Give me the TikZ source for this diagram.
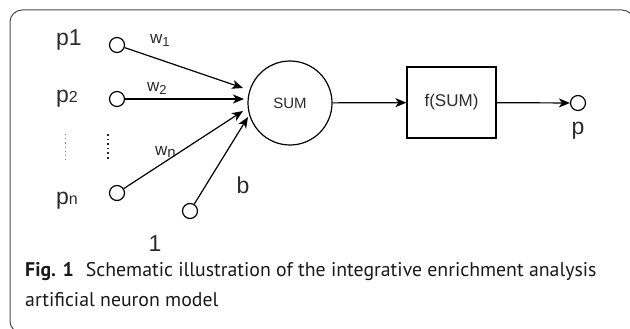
\documentclass[tikz,border=0pt]{standalone}
\usepackage{fontspec}
\setmainfont{Liberation Sans}
\newfontfamily\capfont{PT Sans}
\usetikzlibrary{arrows.meta}
\definecolor{txt}{HTML}{2b2b2b}
\newcommand{\smallsz}{\fontsize{16}{18}\selectfont}
\newcommand{\subsz}[1]{\raisebox{-3pt}{\fontsize{13}{15}\selectfont #1}}
\tikzset{
  lbl/.style={text=txt, inner sep=0pt, font=\fontsize{23}{25}\selectfont},
  wlbl/.style={text=txt, inner sep=0pt, font=\fontsize{17}{19}\selectfont},
  port/.style={circle, draw=black, line width=1.2pt, minimum size=15pt, inner sep=0pt},
  conn/.style={line width=1.2pt, -{Stealth[length=11pt,width=9pt,inset=3pt]}},
}
\begin{document}
\begin{tikzpicture}[x=1pt,y=-1pt]
\useasboundingbox (0,0) rectangle (630,329);
\begin{scope}
\clip (0,0) rectangle (630,329);
\draw[line width=1pt, color=black!70, rounded corners=12pt] (10,10) rectangle (634,333);
\end{scope}
% inputs
\node[lbl] (lp1) at (69,40) {p1};
\node[lbl] (lp2) at (67,99) {p\smallsz 2};
\node[lbl] (lpn) at (67,201) {p\smallsz n};
\node[port] (c1) at (117,45) {};
\node[port] (c2) at (117,99) {};
\node[port] (cn) at (117,193) {};
\node[port] (cb) at (190,211) {};
\node[lbl] (one) at (155,244) {1};
\node[lbl] (lb) at (243,185) {b};
\coordinate (d1a) at (65,134);
\coordinate (d1b) at (65,160);
\coordinate (d2a) at (108,134);
\coordinate (d2b) at (108,160);
\draw[line width=0.8pt, black!45, dash pattern=on 1.2pt off 3pt] (d1a) -- (d1b);
\draw[line width=1.5pt, black!85, dash pattern=on 1.6pt off 3pt] (d2a) -- (d2b);
% sum
\node[circle, draw=black, line width=1.2pt, minimum size=84pt, inner sep=0pt, text=txt, font=\fontsize{15}{17}\selectfont] (sum) at (290,103) {SUM};
\coordinate (t1) at (243,88);
\coordinate (t2) at (244,99);
\coordinate (tn) at (243,111);
\coordinate (tb) at (248,117);
\draw[conn] (c1) -- (t1);
\draw[conn] (c2) -- (t2);
\draw[conn] (cn) -- (tn);
\draw[conn] (cb) -- (tb);
\node[wlbl, anchor=west] (w1) at (150,41) {w\subsz{1}};
\node[wlbl, anchor=west] (w2) at (147,89) {w\subsz{2}};
\node[wlbl, anchor=west] (wn) at (155,152) {w\raisebox{-1.5pt}{\fontsize{15}{17}\selectfont n}};
% f box
\node[draw=black, line width=1.2pt, minimum width=89pt, minimum height=71pt, inner sep=0pt, text=txt, font=\fontsize{17}{19}\selectfont] (f) at (451.5,102.5) {f(SUM)};
\draw[conn] (sum) -- (f);
\node[port] (out) at (578,103) {};
\draw[conn] (f) -- (out);
\node[lbl] (lp) at (578,131) {p};
% caption
\node[anchor=base west, inner sep=0pt, font=\capfont\fontsize{19.8}{22}\selectfont, text=black!90] (cap1) at (25,276) {\textbf{Fig. 1}\hspace{0.6em}Schematic illustration of the integrative enrichment analysis};
\node[anchor=base west, inner sep=0pt, font=\capfont\fontsize{19.8}{22}\selectfont, text=black!90] (cap2) at (25,306) {artificial neuron model};
\end{tikzpicture}
\end{document}
